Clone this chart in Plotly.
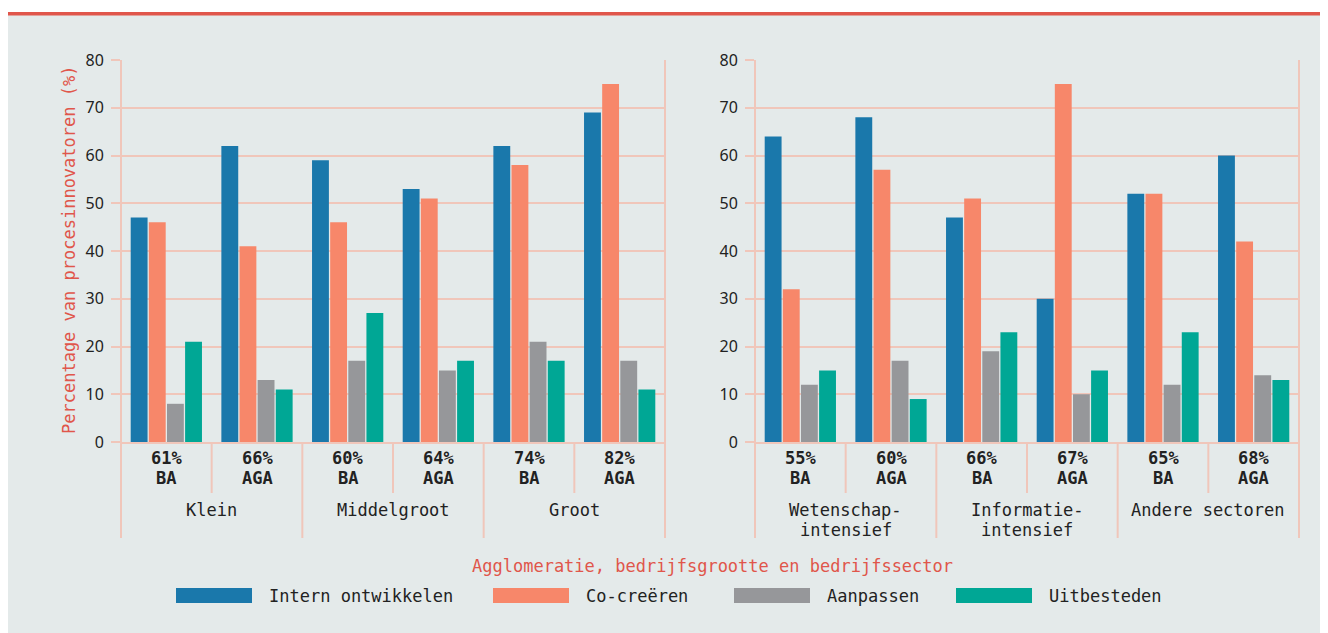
import plotly.graph_objects as go

W, H = 1328, 633

series_names = ["Intern ontwikkelen", "Co-creëren", "Aanpassen", "Uitbesteden"]
colors = ["#1a78ab", "#f7876a", "#96979a", "#00a795"]

sub_labels = ["BA", "AGA"]
left_groups = ["Klein", "Middelgroot", "Groot"]
left_shares = ["61%", "66%", "60%", "64%", "74%", "82%"]
right_groups = ["Wetenschap-<br>intensief", "Informatie-<br>intensief", "Andere sectoren"]
right_shares = ["55%", "60%", "66%", "67%", "65%", "68%"]

left_intern = [47, 62, 59, 53, 62, 69]
left_cocreeren = [46, 41, 46, 51, 58, 75]
left_aanpassen = [8, 13, 17, 15, 21, 17]
left_uitbesteden = [21, 11, 27, 17, 17, 11]

right_intern = [64, 68, 47, 30, 52, 60]
right_cocreeren = [32, 57, 51, 75, 52, 42]
right_aanpassen = [12, 17, 19, 10, 12, 14]
right_uitbesteden = [15, 9, 23, 15, 23, 13]

y_ticks = [0, 10, 20, 30, 40, 50, 60, 70, 80]

x_title = "Agglomeratie, bedrijfsgrootte en bedrijfssector"
y_title = "Percentage van procesinnovatoren (%)"

BG = "#e4eaea"
GRID = "#f0c6ba"
RED = "#e0564b"
TXT = "#222222"
MONO = "DejaVu Sans Mono"

OFF = 8  # page offset of the figure


def px(x):
    return (x - OFF) / W


def py(y):
    return 1 - (y - OFF) / H


fig = go.Figure()

left_series = [left_intern, left_cocreeren, left_aanpassen, left_uitbesteden]
right_series = [right_intern, right_cocreeren, right_aanpassen, right_uitbesteden]

n = len(left_shares)
xs = list(range(n))

for name, col, vals in zip(series_names, colors, left_series):
    fig.add_trace(go.Bar(x=xs, y=vals, name=name, marker=dict(color=col, line=dict(width=0)),
                         xaxis="x", yaxis="y", showlegend=False))
for name, col, vals in zip(series_names, colors, right_series):
    fig.add_trace(go.Bar(x=xs, y=vals, name=name, marker=dict(color=col, line=dict(width=0)),
                         xaxis="x2", yaxis="y2", showlegend=False))

y_dom = [py(442), py(60)]

xaxis_common = dict(range=[-0.5, n - 0.5], tickvals=xs, showgrid=False, zeroline=False,
                    showline=True, linecolor=GRID, linewidth=2, ticks="", showticklabels=False,
                    automargin=False, fixedrange=True)
yaxis_common = dict(range=[0, 80], tickvals=y_ticks, showgrid=True, gridcolor=GRID, gridwidth=1.5,
                    zeroline=False, showline=False, ticks="outside", ticklen=9, tickcolor=GRID,
                    tickwidth=1.5, ticklabelstandoff=4,
                    tickfont=dict(family="Noto Sans", size=16, color=TXT),
                    domain=y_dom, automargin=False, fixedrange=True)

fig.update_layout(
    width=W, height=H,
    margin=dict(l=0, r=0, t=0, b=0, pad=0, autoexpand=False),
    paper_bgcolor=BG,
    plot_bgcolor="rgba(0,0,0,0)",
    barmode="group", bargap=0.2, bargroupgap=0.07,
    xaxis=dict(domain=[px(121), px(665)], anchor="y", **xaxis_common),
    yaxis=dict(anchor="x", **yaxis_common),
    xaxis2=dict(domain=[px(755), px(1299)], anchor="y2", **xaxis_common),
    yaxis2=dict(anchor="x2", **yaxis_common),
)

shapes = []
# white strip and red top rule
shapes.append(dict(type="rect", xref="paper", yref="paper", x0=0, x1=1, y0=py(12), y1=1,
                   fillcolor="white", line=dict(width=0), layer="below"))
shapes.append(dict(type="rect", xref="paper", yref="paper", x0=0, x1=1, y0=py(15.5), y1=py(12),
                   fillcolor=RED, line=dict(width=0), layer="below"))

for ax in ("x", "x2"):
    for k in range(n + 1):
        f = k / n
        if k == 0 or k == n:
            y0, y1 = py(538), py(60)
        elif k % 2 == 0:
            y0, y1 = py(538), py(442)
        else:
            y0, y1 = py(493), py(442)
        shapes.append(dict(type="line", xref=ax + " domain", yref="paper", x0=f, x1=f, y0=y0, y1=y1,
                           line=dict(color=GRID, width=2), layer="above"))

annotations = []
for ax, groups, shares in (("x", left_groups, left_shares), ("x2", right_groups, right_shares)):
    for i, s in enumerate(shares):
        for j, line in enumerate([s, sub_labels[i % 2]]):
            annotations.append(dict(text="<b>%s</b>" % line, xref=ax, yref="paper", x=i, y=py(458 + 20 * j),
                                    xanchor="center", yanchor="middle", showarrow=False,
                                    font=dict(family=MONO, size=17, color=TXT)))
    for g, label in enumerate(groups):
        for j, line in enumerate(label.split("<br>")):
            annotations.append(dict(text=line, xref=ax, yref="paper", x=2 * g + 0.5, y=py(510 + 20 * j),
                                    yanchor="middle", xanchor="center", showarrow=False,
                                    font=dict(family=MONO, size=17, color=TXT)))

annotations.append(dict(text=x_title, xref="paper", yref="paper", x=px(712), y=py(566),
                        xanchor="center", yanchor="middle",
                        showarrow=False, font=dict(family=MONO, size=17, color=RED)))
annotations.append(dict(text=y_title, xref="paper", yref="paper", x=px(69), y=py(250),
                        xanchor="center", yanchor="middle",
                        textangle=-90, showarrow=False, font=dict(family=MONO, size=17, color=RED)))

# legend
legend_x = [176, 493, 734, 956]
for lx, name, col in zip(legend_x, series_names, colors):
    shapes.append(dict(type="rect", xref="paper", yref="paper", x0=px(lx), x1=px(lx + 76),
                       y0=py(603), y1=py(588), fillcolor=col, line=dict(width=0)))
    annotations.append(dict(text=name, xref="paper", yref="paper", x=px(lx + 91), y=py(596),
                            xanchor="left", yanchor="middle", showarrow=False,
                            font=dict(family=MONO, size=17, color=TXT)))

fig.update_layout(shapes=shapes, annotations=annotations)

fig.write_html("out.html")
